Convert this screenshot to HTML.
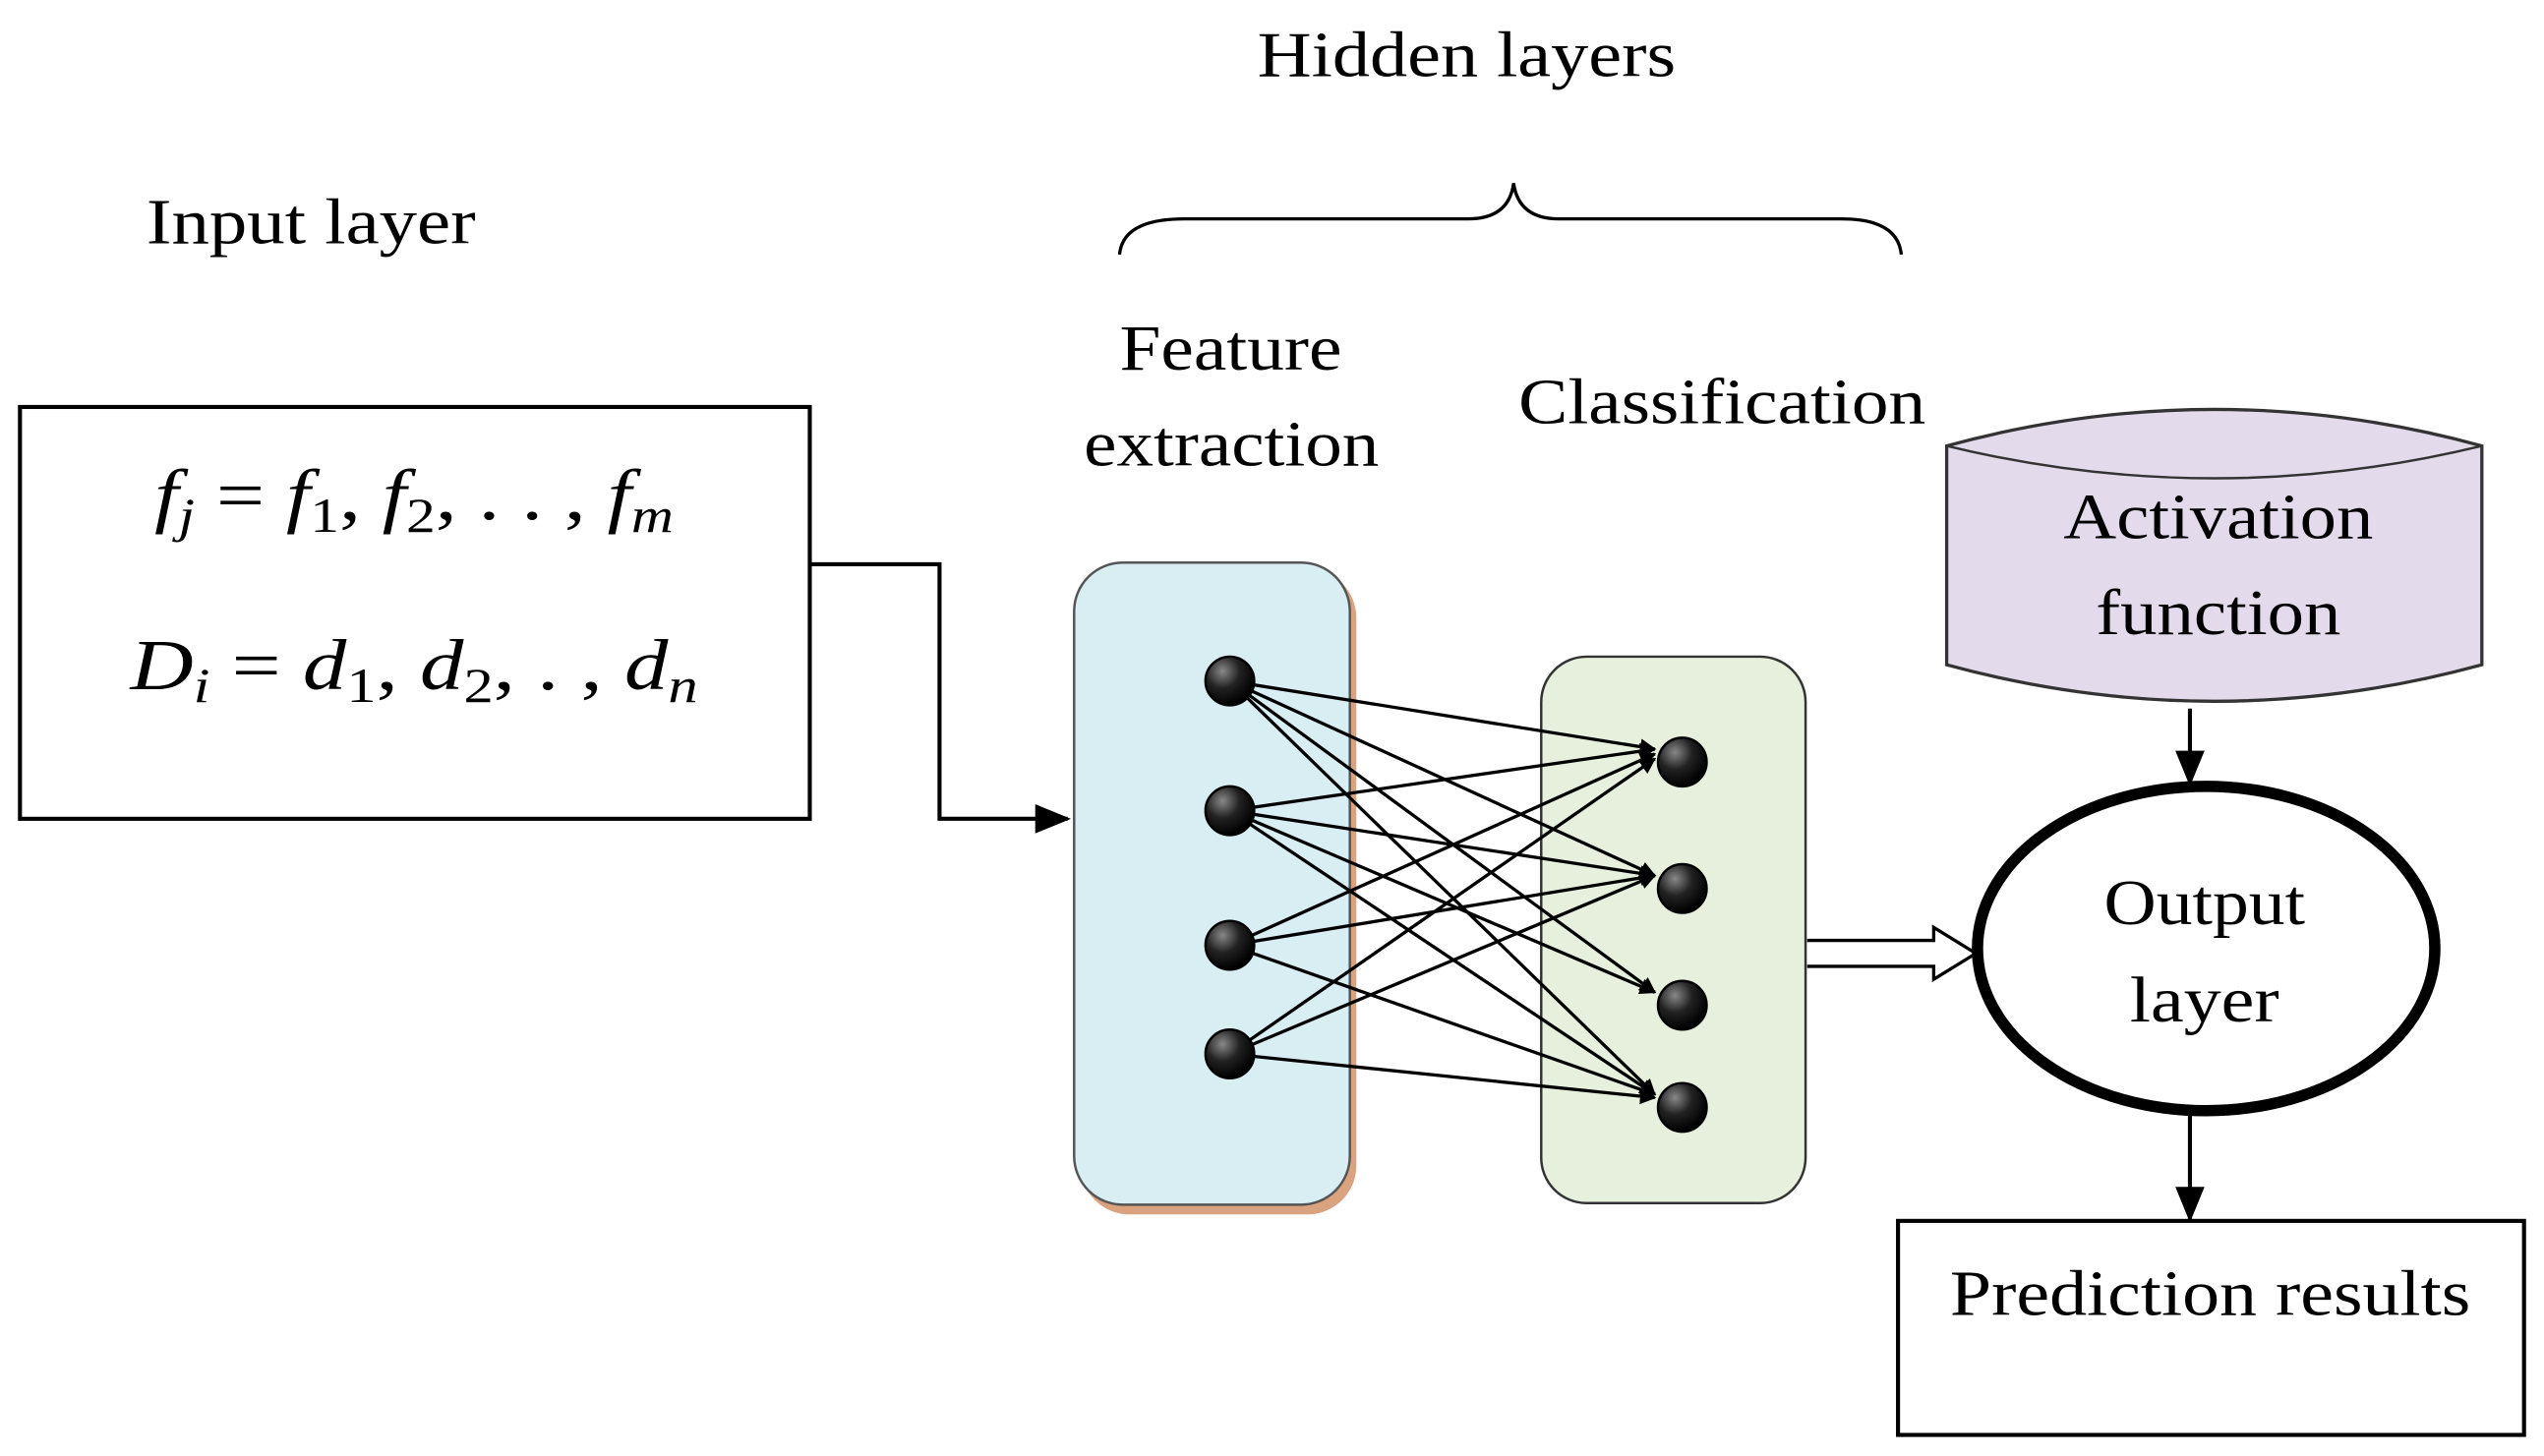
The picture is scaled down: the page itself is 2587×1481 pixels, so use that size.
<!DOCTYPE html>
<html><head><meta charset="utf-8"><style>
html,body{margin:0;padding:0;background:#fff;}
svg{display:block;}
text{font-family:"Liberation Serif",serif;fill:#000;}
</style></head><body>
<svg width="2587" height="1481" viewBox="0 0 1568 898" xmlns="http://www.w3.org/2000/svg">
<defs>
<marker id="ah" markerWidth="10" markerHeight="10" refX="9" refY="5" orient="auto" markerUnits="userSpaceOnUse" viewBox="0 0 10 10">
<path d="M0,0 L10,5 L0,10 z" fill="#000"/></marker>
<marker id="ah2" markerWidth="22" markerHeight="22" refX="20" refY="11" orient="auto" markerUnits="userSpaceOnUse" viewBox="0 0 22 22">
<path d="M0,2 L22,11 L0,20 z" fill="#000"/></marker>
<radialGradient id="ng" cx="0.35" cy="0.3" r="0.7"><stop offset="0" stop-color="#888"/><stop offset="0.5" stop-color="#222"/><stop offset="1" stop-color="#000"/></radialGradient>
</defs>
<rect width="1568" height="898" fill="#fff"/>
<text x="775" y="47" font-size="40" textLength="258" lengthAdjust="spacingAndGlyphs">Hidden layers</text>
<path d="M690,157 Q692,135 730,135 L905,135 Q930,135 933,113 Q936,135 961,135 L1135,135 Q1170,135 1172,157" fill="none" stroke="#000" stroke-width="2"/>
<text x="90" y="150" font-size="40" textLength="203" lengthAdjust="spacingAndGlyphs">Input layer</text>
<rect x="12" y="251" width="487" height="254" fill="#fff" stroke="#000" stroke-width="2.5"/>
<text x="95" y="320" font-size="44" font-style="italic" textLength="320" lengthAdjust="spacingAndGlyphs">f<tspan font-size="30" dy="8">j</tspan><tspan dy="-8" font-style="normal"> = </tspan>f<tspan font-size="30" dy="8" font-style="normal">1</tspan><tspan dy="-8" font-style="normal">, </tspan>f<tspan font-size="30" dy="8" font-style="normal">2</tspan><tspan dy="-8" font-style="normal">, . . , </tspan>f<tspan font-size="30" dy="8">m</tspan></text>
<text x="80" y="425" font-size="44" font-style="italic" textLength="350" lengthAdjust="spacingAndGlyphs">D<tspan font-size="30" dy="8">i</tspan><tspan dy="-8" font-style="normal"> = </tspan>d<tspan font-size="30" dy="8" font-style="normal">1</tspan><tspan dy="-8" font-style="normal">, </tspan>d<tspan font-size="30" dy="8" font-style="normal">2</tspan><tspan dy="-8" font-style="normal">, . , </tspan>d<tspan font-size="30" dy="8">n</tspan></text>
<path d="M499,348 H579 V505 H658" fill="none" stroke="#000" stroke-width="2.5" marker-end="url(#ah2)"/>
<text x="690" y="228" font-size="40" textLength="137" lengthAdjust="spacingAndGlyphs">Feature</text>
<text x="668" y="287" font-size="40" textLength="182" lengthAdjust="spacingAndGlyphs">extraction</text>
<text x="936" y="261" font-size="40" textLength="251" lengthAdjust="spacingAndGlyphs">Classification</text>
<rect x="666" y="351" width="170" height="398" rx="30" fill="#d9a37f"/>
<rect x="662" y="347" width="170" height="396" rx="30" fill="#d8eef3" stroke="#555" stroke-width="1.5"/>
<rect x="950" y="405" width="163" height="337" rx="28" fill="#e7f0dc" stroke="#333" stroke-width="1.5"/>
<g stroke="#000" stroke-width="2" marker-end="url(#ah)">
<line x1="758" y1="420" x2="1020" y2="462"/><line x1="758" y1="420" x2="1020" y2="540"/><line x1="758" y1="420" x2="1020" y2="612"/><line x1="758" y1="420" x2="1020" y2="675"/>
<line x1="758" y1="500" x2="1020" y2="462"/><line x1="758" y1="500" x2="1020" y2="540"/><line x1="758" y1="500" x2="1020" y2="612"/><line x1="758" y1="500" x2="1020" y2="675"/>
<line x1="758" y1="583" x2="1020" y2="465"/><line x1="758" y1="583" x2="1020" y2="540"/><line x1="758" y1="583" x2="1020" y2="675"/>
<line x1="758" y1="650" x2="1020" y2="468"/><line x1="758" y1="650" x2="1020" y2="540"/><line x1="758" y1="650" x2="1020" y2="677"/>
</g>
<g fill="url(#ng)" stroke="#000" stroke-width="1.5">
<circle cx="758" cy="420" r="15"/><circle cx="758" cy="500" r="15"/><circle cx="758" cy="583" r="15"/><circle cx="758" cy="650" r="15"/>
<circle cx="1037" cy="470" r="15"/><circle cx="1037" cy="548" r="15"/><circle cx="1037" cy="620" r="15"/><circle cx="1037" cy="683" r="15"/>
</g>
<path d="M1114,580 H1192 V572 L1218,588 L1192,604 V596 H1114" fill="#fff" stroke="#000" stroke-width="2"/>
<path d="M1200,275 Q1365,230 1530,275 V410 Q1365,455 1200,410 Z" fill="#e3dbec" stroke="#333" stroke-width="2"/>
<path d="M1200,275 Q1365,315 1530,275" fill="none" stroke="#333" stroke-width="1.5"/>
<text x="1272" y="332" font-size="40" textLength="191" lengthAdjust="spacingAndGlyphs">Activation</text>
<text x="1292" y="391" font-size="40" textLength="151" lengthAdjust="spacingAndGlyphs">function</text>
<line x1="1350" y1="437" x2="1350" y2="483" stroke="#000" stroke-width="2.5" marker-end="url(#ah2)"/>
<ellipse cx="1360" cy="585" rx="141" ry="100" fill="#fff" stroke="#000" stroke-width="7"/>
<text x="1297" y="570" font-size="40" textLength="124" lengthAdjust="spacingAndGlyphs">Output</text>
<text x="1313" y="630" font-size="40" textLength="92" lengthAdjust="spacingAndGlyphs">layer</text>
<line x1="1350" y1="686" x2="1350" y2="752" stroke="#000" stroke-width="2.5" marker-end="url(#ah2)"/>
<rect x="1170" y="753" width="386" height="132" fill="#fff" stroke="#000" stroke-width="2.5"/>
<text x="1202" y="811" font-size="40" textLength="321" lengthAdjust="spacingAndGlyphs">Prediction results</text>
</svg>
</body></html>
